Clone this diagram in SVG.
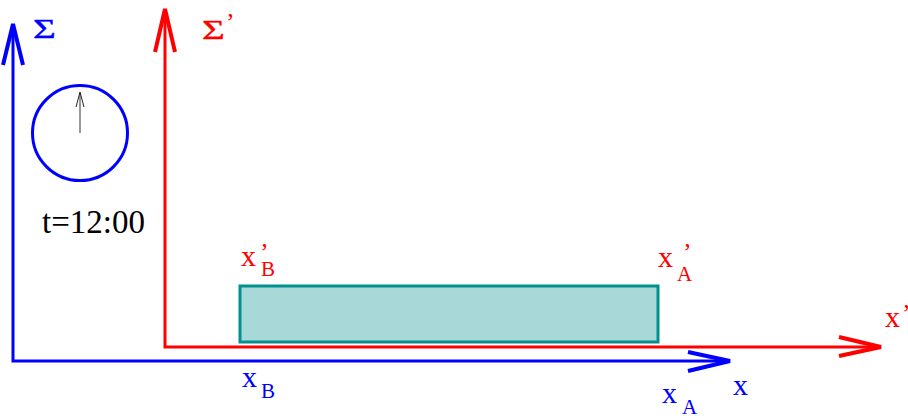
<svg xmlns="http://www.w3.org/2000/svg" width="908" height="416" viewBox="0 0 908 416">
<style>
text{font-family:"Liberation Serif","Times New Roman",serif}
.b{fill:#0000ff}.r{fill:#ff0000}
.ax{fill:none;stroke-width:3;stroke-linecap:butt}
.ah{fill:none;stroke-width:4;stroke-linejoin:miter}
.main{font-size:30px}.sub{font-size:21px}
.sig{font-size:28px}
</style>
<rect width="908" height="416" fill="#ffffff"/>
<g id="connectors">
<polyline class="ax" stroke="#0000ff" points="13,24 13,361 730,361"/>
<polyline class="ah" stroke="#0000ff" points="3,65 13,24 23,65"/>
<polyline class="ah" stroke="#0000ff" points="688,352 730,361 688,371"/>
<polyline class="ax" stroke="#ff0000" points="165,9 165,347 881,347"/>
<polyline class="ah" stroke="#ff0000" points="155,52 165,9 175,52"/>
<polyline class="ah" stroke="#ff0000" points="839,337 881,347 839,356"/>
</g>
<g id="sigma">
<text class="b sig" transform="translate(33,38) scale(1.4,1)" x="0" y="0" stroke="#0000ff" stroke-width="0.4">Σ</text>
</g>
<g id="sigma-prime">
<text class="r sig" transform="translate(202,39) scale(1.4,1)" x="0" y="0" stroke="#ff0000" stroke-width="0.4">Σ</text>
<text class="r" x="226" y="31" font-size="26">’</text>
</g>
<g id="clock">
<circle cx="80" cy="133" r="47.5" fill="none" stroke="#0000ff" stroke-width="3"/>
<line x1="80" y1="133" x2="80" y2="93" stroke="#555555" stroke-width="1.2"/>
<polyline points="76,107 80,92 84,107" fill="none" stroke="#222222" stroke-width="1"/>
</g>
<g id="time">
<text x="42" y="233" font-size="33" fill="#000000">t=12:00</text>
</g>
<g id="rod">
<rect x="240" y="286" width="418" height="56" fill="#a8d8d8" stroke="#009090" stroke-width="3"/>
</g>
<g id="label-xpB">
<text class="r main" x="241" y="266">x</text>
<text class="r" x="260" y="261" font-size="26">’</text>
<text class="r sub" x="261" y="276">B</text>
</g>
<g id="label-xpA">
<text class="r main" x="658" y="267">x</text>
<text class="r" x="683" y="261" font-size="26">’</text>
<text class="r sub" x="677" y="281">A</text>
</g>
<g id="label-xp">
<text class="r main" x="885" y="327">x</text>
<text class="r" x="902" y="322" font-size="26">’</text>
</g>
<g id="label-xB">
<text class="b main" x="242" y="387">x</text>
<text class="b sub" x="261" y="398">B</text>
</g>
<g id="label-xA">
<text class="b main" x="662" y="403">x</text>
<text class="b sub" x="682" y="414">A</text>
</g>
<g id="label-x">
<text class="b main" x="733" y="395">x</text>
</g>
</svg>
